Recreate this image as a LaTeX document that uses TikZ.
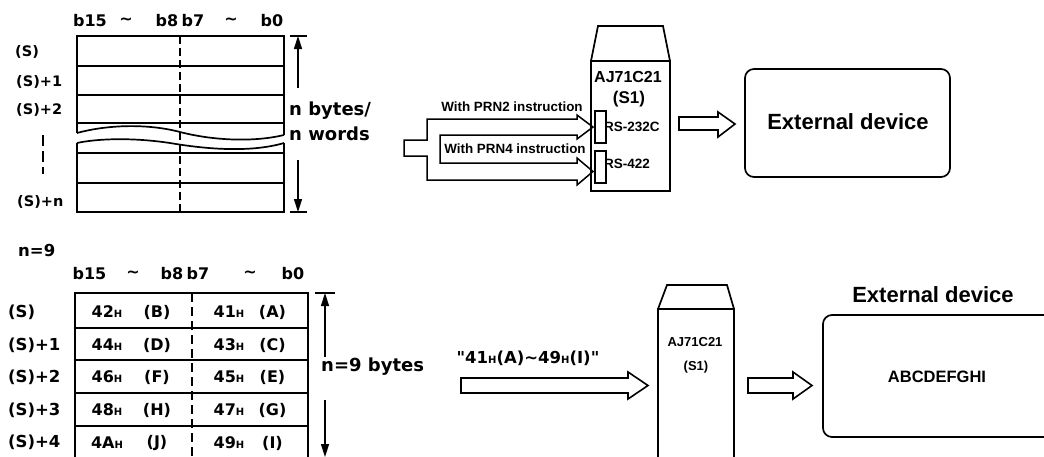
\documentclass[tikz,border=0pt]{standalone}
\usepackage{fontspec}
\setmainfont{DejaVu Sans}
\newfontfamily\arialf{Liberation Sans}
\newfontfamily\dqf{DejaVu Sans}[Ligatures=TeXOff]
\usetikzlibrary{arrows.meta}
\newcommand{\fsz}[1]{\fontsize{#1}{#1}\selectfont}
\newcommand{\hsub}{{\fontsize{10}{10}\selectfont H}}
\newcommand{\tld}{\textasciitilde}
\newcommand{\dq}{{\dqf\bfseries"}}
\begin{document}
\begin{tikzpicture}[x=1pt,y=-1pt,
  frame/.style={line width=1.7pt},
  rowline/.style={line width=1.5pt},
  divline/.style={line width=1.6pt, dash pattern=on 8pt off 4pt},
  dimarrow/.style={line width=1.5pt, -{Triangle[length=13pt,width=8pt]}},
  hollow/.style={line width=1.6pt, line join=miter, fill=white},
  bitlbl/.style={inner sep=0pt, font=\bfseries\fsz{16}},
  rowlbl/.style={inner sep=0pt, anchor=west, font=\bfseries\fsz{14.5}},
  rowlblb/.style={inner sep=0pt, anchor=west, font=\bfseries\fsz{16.5}},
  celltxt/.style={inner sep=0pt, font=\bfseries\fsz{16}},
  dimtxt/.style={inner sep=0pt, anchor=base west, font=\bfseries\fsz{18}},
  smalltxt/.style={inner sep=0pt, font=\arialf\bfseries\fsz{13.4}},
  modtxt/.style={inner sep=0pt, font=\arialf\bfseries\fsz{16}},
  modtxtb/.style={inner sep=0pt, font=\arialf\bfseries\fsz{13}},
  devtxt/.style={inner sep=0pt, font=\arialf\bfseries\fsz{22}}
]
\useasboundingbox (0,0) rectangle (1044,456);
\clip (0,0) rectangle (1044,456);

% ================= TOP TABLE =================
\node[bitlbl] (tb15) at (90,21) {b15};
\node[bitlbl] (tt1) at (126,21) {\tld};
\node[bitlbl] (tb8) at (167,21) {b8};
\node[bitlbl] (tb7) at (193,21) {b7};
\node[bitlbl] (tt2) at (231,21) {\tld};
\node[bitlbl] (tb0) at (272,21) {b0};

\draw[frame] (77,133) -- (77,36) -- (284,36) -- (284,135);
\draw[frame] (77,143) -- (77,212) -- (284,212) -- (284,143);
\foreach \yy in {66,95,123,153,183} \draw[rowline] (77,\yy) -- (284,\yy);
\draw[frame] (77,133) .. controls (110,124) and (150,124) .. (180,132)
                     .. controls (215,141) and (255,142) .. (284,135);
\draw[frame] (77,143) .. controls (95,139) and (130,137) .. (170,143)
                     .. controls (205,149) and (250,153) .. (284,143);
\draw[divline] (180,36) -- (180,212);

\node[rowlbl] (ts0) at (15,52) {(S)};
\node[rowlbl] (ts1) at (16,82) {(S)+1};
\node[rowlbl] (ts2) at (16,110) {(S)+2};
\node[rowlbl] (tsn) at (17,202) {(S)+n};
\draw[line width=2pt, dash pattern=on 11pt off 5pt] (43,135) -- (43,174);

\draw[line width=1.5pt] (290,36) -- (307,36);
\draw[line width=1.5pt] (290,212) -- (307,212);
\coordinate (tdu0) at (298,88);
\coordinate (tdu1) at (298,36);
\coordinate (tdd0) at (298,160);
\coordinate (tdd1) at (298,212);
\draw[dimarrow] (tdu0) -- (tdu1);
\draw[dimarrow] (tdd0) -- (tdd1);
\node[dimtxt] (tnb) at (289,115) {n bytes/};
\node[dimtxt] (tnw) at (289,140) {n words};

% ================= TOP ARROWS =================
\draw[line width=1.5pt, line join=miter]
  (404,140) -- (427,140) -- (427,119) -- (577,119) -- (577,115) -- (593,127)
  -- (577,139) -- (577,135) -- (440,135) -- (440,163) -- (577,163) -- (577,158)
  -- (593,171.5) -- (577,185) -- (577,180) -- (427,180) -- (427,156) -- (404,156) -- cycle;
\node[smalltxt] (prn2) at (512,107) {With PRN2 instruction};
\node[smalltxt] (prn4) at (515,149) {With PRN4 instruction};

% ================= TOP MODULE =================
\draw[frame, line join=miter] (591,61) -- (598,26) -- (663,26) -- (670,61);
\draw[frame] (591,61) rectangle (670,191);
\node[modtxt] (tmod) at (628,77) {AJ71C21};
\node[modtxt, font=\arialf\bfseries\fsz{17}] (ts1m) at (629,99) {(S1)};
\node[smalltxt, anchor=west, font=\arialf\bfseries\fsz{13.5}] (rs232) at (604,126.5) {RS-232C};
\node[smalltxt, anchor=west, font=\arialf\bfseries\fsz{13.5}] (rs422) at (604,164) {RS-422};
\draw[line width=1.5pt, fill=white] (595,111) rectangle (606,143);
\draw[line width=1.5pt, fill=white] (595,151) rectangle (606,183);

% hollow arrow top right
\draw[hollow] (679,117) -- (718,117) -- (718,112) -- (735,124) -- (718,137) -- (718,130) -- (679,130) -- cycle;

\draw[frame, rounded corners=9pt] (745,69) rectangle (950,177);
\node[devtxt] (tdev) at (848,122) {External device};

% ================= BOTTOM TABLE =================
\node[inner sep=0pt, anchor=west, font=\bfseries\fsz{16.5}] (n9) at (18,250) {n=9};
\node[bitlbl] (bb15) at (89.5,274) {b15};
\node[bitlbl] (bt1) at (133,274) {\tld};
\node[bitlbl] (bb8) at (172,274) {b8};
\node[bitlbl] (bb7) at (198,274) {b7};
\node[bitlbl] (bt2) at (250,274) {\tld};
\node[bitlbl] (bb0) at (293,274) {b0};

\draw[frame] (75,470) -- (75,293) -- (308,293) -- (308,470);
\foreach \yy in {328,360,393,426} \draw[rowline] (75,\yy) -- (308,\yy);
\draw[line width=1.6pt, dash pattern=on 9pt off 5pt] (192,293) -- (192,460);

\foreach \yy/\ll/\la/\rl/\ra [count=\i] in
  {312/42/B/41/A, 345/44/D/43/C, 377/46/F/45/E, 410/48/H/47/G, 443/4A/J/49/I} {
  \node[celltxt] (cl\i) at (107,\yy) {\ll\hsub};
  \node[celltxt] (cla\i) at (157,\yy) {(\la)};
  \node[celltxt] (cr\i) at (229,\yy) {\rl\hsub};
  \node[celltxt] (cra\i) at (272.5,\yy) {(\ra)};
}
\node[rowlblb] (bs0) at (8,312) {(S)};
\node[rowlblb] (bs1) at (8,345) {(S)+1};
\node[rowlblb] (bs2) at (8,377) {(S)+2};
\node[rowlblb] (bs3) at (8,410) {(S)+3};
\node[rowlblb] (bs4) at (8,442) {(S)+4};

\draw[line width=1.5pt] (315,293) -- (335,293);
\coordinate (bdu0) at (325,357);
\coordinate (bdu1) at (325,293);
\coordinate (bdd0) at (325,400);
\coordinate (bdd1) at (325,457);
\draw[dimarrow] (bdu0) -- (bdu1);
\draw[dimarrow] (bdd0) -- (bdd1);
\node[dimtxt, anchor=west] (n9b) at (321,367) {n=9 bytes};

% ================= BOTTOM ARROW & MODULE =================
\node[inner sep=0pt, font=\bfseries\fsz{16.5}] (quote) at (528,358) {\dq41\hsub(A)\tld49\hsub(I)\dq};
\draw[hollow] (461,378) -- (628,378) -- (628,372) -- (648,385.5) -- (628,399) -- (628,393) -- (461,393) -- cycle;

\draw[frame, line join=miter] (658,309) -- (667,285) -- (727,285) -- (734,309);
\draw[frame] (658,470) -- (658,309) -- (734,309) -- (734,470);
\node[modtxtb] (bmod) at (695,342) {AJ71C21};
\node[modtxtb] (bs1m) at (696,367) {(S1)};

\draw[hollow] (748,378) -- (793,378) -- (793,372) -- (812,385.5) -- (793,399) -- (793,393) -- (748,393) -- cycle;

\draw[frame, rounded corners=9pt] (823,315) rectangle (1070,437);
\node[devtxt] (bdevl) at (933,295) {External device};
\node[inner sep=0pt, font=\arialf\bfseries\fsz{16.5}] (abc) at (937,377) {ABCDEFGHI};
\end{tikzpicture}
\end{document}
